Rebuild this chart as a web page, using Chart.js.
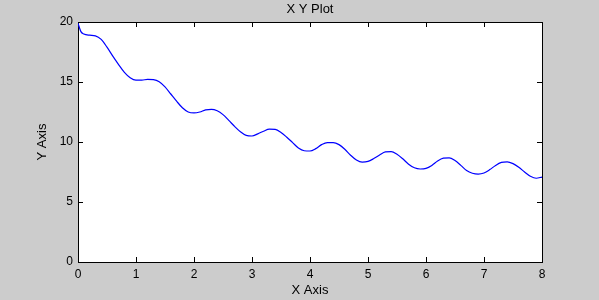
<!DOCTYPE html>
<html>
<head>
<meta charset="utf-8">
<title>X Y Plot</title>
<script src="https://cdn.jsdelivr.net/npm/chart.js@4.4.1/dist/chart.umd.min.js"></script>
<style>
    html, body { margin: 0; padding: 0; background: #cccccc; }
    #plot { display: block; }
</style>
</head>
<body>
<canvas id="plot" width="599" height="300"></canvas>
<script>
// ============================================
// X Y PLOT - curva
// ============================================

const xValues = [
    0, 0.05, 0.1, 0.2, 0.3, 0.4, 0.5, 0.6, 0.7, 0.8, 0.9,
    1.0, 1.1, 1.2, 1.3, 1.4, 1.5, 1.6, 1.7, 1.8, 1.9,
    2.0, 2.1, 2.2, 2.3, 2.4, 2.5, 2.6, 2.7, 2.8, 2.9,
    3.0, 3.1, 3.2, 3.3, 3.4, 3.5, 3.6, 3.7, 3.8, 3.9,
    4.0, 4.1, 4.2, 4.3, 4.4, 4.5, 4.6, 4.7, 4.8, 4.9,
    5.0, 5.1, 5.2, 5.3, 5.4, 5.5, 5.6, 5.7, 5.8, 5.9,
    6.0, 6.1, 6.2, 6.3, 6.4, 6.5, 6.6, 6.7, 6.8, 6.9,
    7.0, 7.1, 7.2, 7.3, 7.4, 7.5, 7.6, 7.7, 7.8, 7.9, 8.0
];

const yValues = [
    19.9, 19.2, 19.0, 18.9, 18.85, 18.55, 17.9, 17.15, 16.45, 15.8, 15.35,
    15.15, 15.15, 15.22, 15.2, 15.03, 14.6, 14.0, 13.4, 12.85, 12.5,
    12.42, 12.5, 12.68, 12.72, 12.6, 12.28, 11.8, 11.3, 10.85, 10.55,
    10.5, 10.68, 10.9, 11.07, 11.05, 10.8, 10.4, 9.95, 9.5, 9.27,
    9.25, 9.45, 9.78, 9.95, 9.95, 9.78, 9.4, 8.9, 8.5, 8.32,
    8.38, 8.62, 8.92, 9.17, 9.2, 8.98, 8.6, 8.15, 7.85, 7.75,
    7.8, 8.05, 8.42, 8.65, 8.68, 8.45, 8.05, 7.62, 7.4, 7.33,
    7.42, 7.7, 8.05, 8.3, 8.35, 8.2, 7.9, 7.5, 7.15, 6.98, 7.08
];

const xTicks = [0, 1, 2, 3, 4, 5, 6, 7, 8];
const yTicks = [0, 5, 10, 15, 20];

const FONT = "'Liberation Sans', Arial, Helvetica, sans-serif";
const TICK_LEN = 5;

Chart.defaults.font.family = FONT;
Chart.defaults.color = '#000000';

// Caixa do eixo + ticks para dentro (estilo MATLAB), e titulo centrado no plot
const axesBoxPlugin = {
    id: 'axesBox',
    beforeDatasetsDraw(chart) {
        const { ctx, chartArea: a, scales } = chart;
        ctx.save();
        ctx.fillStyle = '#ffffff';
        ctx.fillRect(a.left, a.top, a.right - a.left, a.bottom - a.top);

        ctx.strokeStyle = '#000000';
        ctx.lineWidth = 1;
        ctx.beginPath();
        scales.x.ticks.forEach(t => {
            const px = Math.round(scales.x.getPixelForValue(t.value)) + 0.5;
            ctx.moveTo(px, a.bottom);
            ctx.lineTo(px, a.bottom - TICK_LEN);
            ctx.moveTo(px, a.top);
            ctx.lineTo(px, a.top + TICK_LEN);
        });
        scales.y.ticks.forEach(t => {
            const py = Math.round(scales.y.getPixelForValue(t.value)) + 0.5;
            ctx.moveTo(a.left, py);
            ctx.lineTo(a.left + TICK_LEN, py);
            ctx.moveTo(a.right, py);
            ctx.lineTo(a.right - TICK_LEN, py);
        });
        ctx.stroke();

        ctx.strokeRect(Math.round(a.left) + 0.5, Math.round(a.top) + 0.5,
            Math.round(a.right - a.left), Math.round(a.bottom - a.top));
        ctx.restore();
    },
    afterDraw(chart) {
        const { ctx, chartArea: a } = chart;
        ctx.save();
        ctx.font = '13px ' + FONT;
        ctx.fillStyle = '#000000';
        ctx.textAlign = 'center';
        ctx.textBaseline = 'middle';
        ctx.fillText('X Y Plot', (a.left + a.right) / 2, 9);
        ctx.restore();
    }
};

function loadChart() {
    const canvas = document.getElementById('plot');
    const points = xValues.map((x, i) => ({ x: x, y: yValues[i] }));

    new Chart(canvas.getContext('2d'), {
        type: 'line',
        data: {
            datasets: [{
                data: points,
                borderColor: '#0000ff',
                borderWidth: 1.2,
                pointRadius: 0,
                fill: false,
                cubicInterpolationMode: 'monotone'
            }]
        },
        options: {
            responsive: false,
            animation: false,
            events: [],
            layout: { padding: { top: 22, right: 57, left: 0, bottom: 0 } },
            plugins: {
                legend: { display: false },
                title: { display: false },
                tooltip: { enabled: false }
            },
            scales: {
                x: {
                    type: 'linear',
                    min: 0,
                    max: 8,
                    grid: { display: false, drawTicks: false },
                    border: { display: false },
                    afterBuildTicks: (scale) => { scale.ticks = xTicks.map(v => ({ value: v })); },
                    afterFit: (scale) => { scale.height = 38; },
                    ticks: { padding: 5, maxRotation: 0, font: { size: 12 } },
                    title: {
                        display: true,
                        text: 'X Axis',
                        font: { size: 13 },
                        padding: { top: 0, bottom: 2 }
                    }
                },
                y: {
                    type: 'linear',
                    min: 0,
                    max: 20,
                    grid: { display: false, drawTicks: false },
                    border: { display: false },
                    afterBuildTicks: (scale) => { scale.ticks = yTicks.map(v => ({ value: v })); },
                    afterFit: (scale) => { scale.width = 78; },
                    ticks: { padding: 5, font: { size: 12 } },
                    title: {
                        display: true,
                        text: 'Y Axis',
                        font: { size: 13 },
                        padding: { top: 35, bottom: 0 }
                    }
                }
            }
        },
        plugins: [axesBoxPlugin]
    });
}

document.addEventListener('DOMContentLoaded', loadChart);
</script>
</body>
</html>
